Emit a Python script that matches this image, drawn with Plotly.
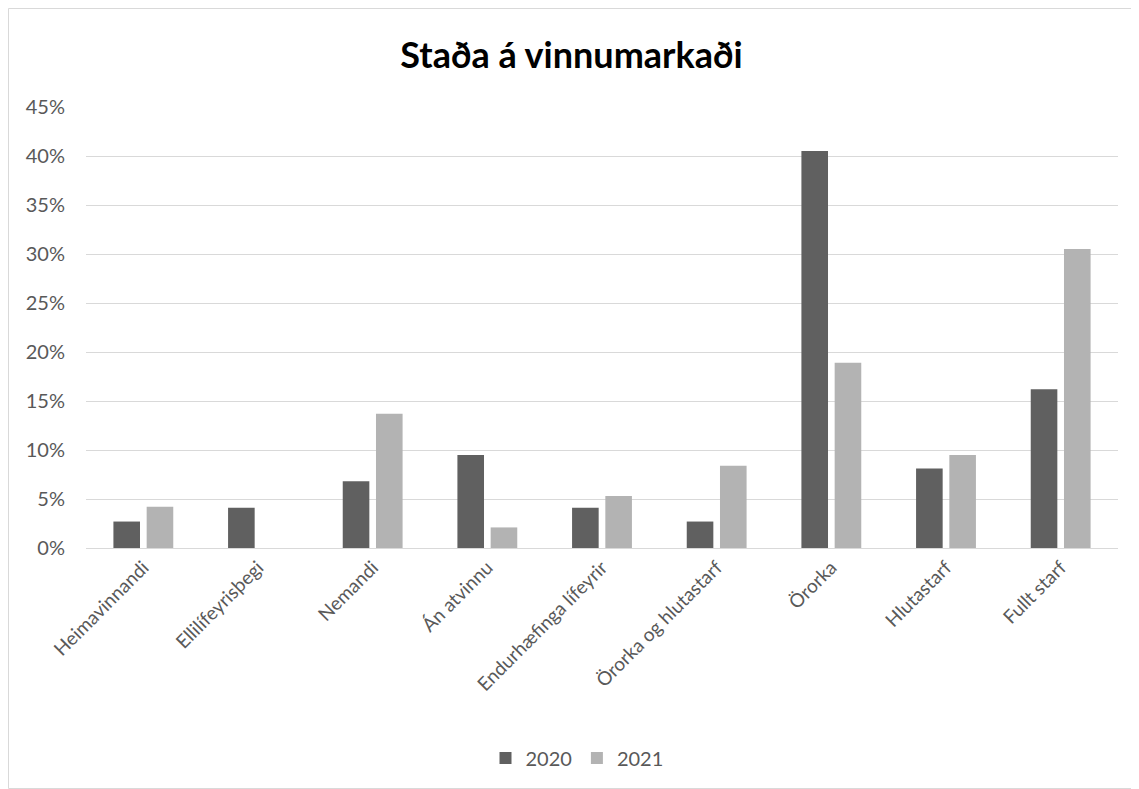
import plotly.graph_objects as go

categories = ["Heimavinnandi", "Ellilífeyrisþegi", "Nemandi", "Án atvinnu",
              "Endurhæfinga lífeyrir", "Örorka og hlutastarf", "Örorka",
              "Hlutastarf", "Fullt starf"]
values_2020 = [2.7, 4.1, 6.8, 9.5, 4.1, 2.7, 40.5, 8.1, 16.2]
values_2021 = [4.2, 0.0, 13.7, 2.1, 5.3, 8.4, 18.9, 9.5, 30.5]
y_ticks = [0, 5, 10, 15, 20, 25, 30, 35, 40, 45]
y_tick_labels = [f"{v}%" for v in y_ticks]

FONT = "Lato, Carlito, Calibri, sans-serif"
# page has an 8px body margin; figure is offset by it
W, H = 1127, 781
L, R, T, B = 78, 17, 99, 241

fig = go.Figure()
fig.add_trace(go.Bar(name="2020", x=categories, y=values_2020,
                     marker=dict(color="#606060", line=dict(width=0)),
                     hovertemplate="%{x}: %{y}%<extra>2020</extra>"))
fig.add_trace(go.Bar(name="2021", x=categories, y=values_2021,
                     marker=dict(color="#B3B3B3", line=dict(width=0)),
                     hovertemplate="%{x}: %{y}%<extra>2021</extra>"))

pw = W - L - R
ph = H - T - B
# chart border (paper coords extending into margins)
x0 = (0.5 - L) / pw
x1 = (W - 0.5 - L) / pw
y0 = -(H - 0.5 - (H - B)) / ph
y1 = (T - 0.5) / ph + 1

fig.update_layout(
    width=W, height=H,
    margin=dict(l=L, r=R, t=T, b=B, pad=0),
    paper_bgcolor="white", plot_bgcolor="white",
    barmode="group", bargap=0.42, bargroupgap=0.2,
    title=dict(text="<b>Staða á vinnumarkaði</b>", x=0.5, xanchor="center",
               y=1 - 47 / H, yanchor="middle",
               font=dict(family=FONT, size=36, color="#000000")),
    font=dict(family=FONT, size=20, color="#595959"),
    xaxis=dict(tickangle=-45, showgrid=False, showline=True, linecolor="#D9D9D9",
               linewidth=1, ticks="", tickfont=dict(size=19, color="#595959"),
               range=[-0.5, len(categories) - 0.5], fixedrange=True),
    yaxis=dict(range=[0, 45], tickvals=y_ticks, ticktext=y_tick_labels,
               showgrid=True, gridcolor="#D9D9D9", gridwidth=1,
               zeroline=False, showline=False, ticks="",
               ticklabelstandoff=20,
               tickfont=dict(size=20, color="#595959"), fixedrange=True),
    legend=dict(orientation="h", x=0.5 - 25 / pw, xanchor="center",
                y=-(750 - (H - B)) / ph, yanchor="middle",
                font=dict(size=20, color="#595959"),
                itemwidth=30, traceorder="normal"),
    shapes=[dict(type="rect", xref="paper", yref="paper", x0=x0, x1=x1, y0=y0, y1=y1,
                 line=dict(color="#D9D9D9", width=1), fillcolor="rgba(0,0,0,0)",
                 layer="below")],
    showlegend=True,
)

fig.write_html("out.html")
